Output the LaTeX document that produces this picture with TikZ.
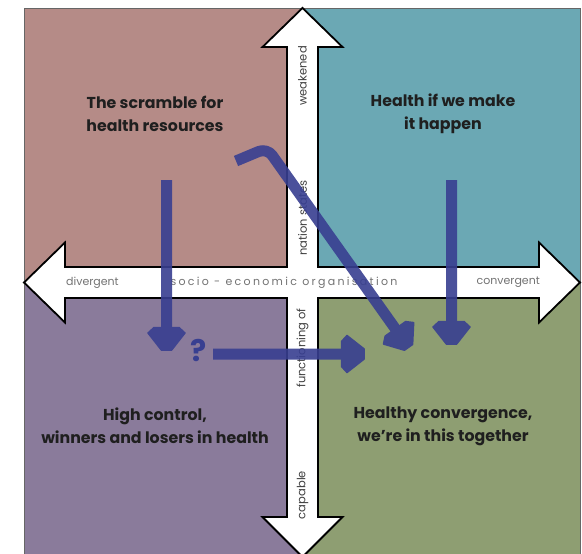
\documentclass[tikz,border=0pt]{standalone}
\usepackage{fontspec}
\setmainfont{Poppins}
\usetikzlibrary{arrows.meta}
\definecolor{qpink}{RGB}{181,139,135}
\definecolor{qteal}{RGB}{107,168,180}
\definecolor{qpurple}{RGB}{138,123,155}
\definecolor{qgreen}{RGB}{142,158,114}
\definecolor{flowblue}{RGB}{56,63,145}
\pgfdeclarearrow{
  name = Chev,
  setup code = {
    \pgfarrowssettipend{0pt}
    \pgfarrowssetlineend{-15pt}
    \pgfarrowssetbackend{-24pt}
  },
  drawing code = {
    \pgfsetlinewidth{1.5pt}
    \pgfsetroundjoin
    \pgfpathmoveto{\pgfpoint{-0.8pt}{5pt}}
    \pgfpathlineto{\pgfpoint{-18pt}{18.5pt}}
    \pgfpathlineto{\pgfpoint{-23.5pt}{12.5pt}}
    \pgfpathlineto{\pgfpoint{-23.5pt}{-12.5pt}}
    \pgfpathlineto{\pgfpoint{-18pt}{-18.5pt}}
    \pgfpathlineto{\pgfpoint{-0.8pt}{-5pt}}
    \pgfpathclose
    \pgfusepathqfillstroke
  },
}
\begin{document}
\begin{tikzpicture}[x=1pt,y=-1pt,
  title/.style={font=\bfseries\fontsize{15.8}{23}\selectfont, align=center, text=black!88, inner sep=0},
  axislabel/.style={font=\fontsize{11}{13}\selectfont, text=black!55, inner sep=0},
  vlabel/.style={font=\fontsize{11.5}{13}\selectfont, text=black!75, inner sep=0, rotate=90},
  flow/.style={draw=flowblue, line width=11pt, line join=round, -Chev},
  quad/.style={draw=black!70, line width=0.8pt}
]
\useasboundingbox (0,0) rectangle (582,554);
% quadrants
\fill[qpink]   (24,8) rectangle (302.5,282.5);
\fill[qteal]   (302.5,8) rectangle (580,282.5);
\fill[qpurple] (24,282.5) rectangle (302.5,556);
\fill[qgreen]  (302.5,282.5) rectangle (580,556);
\draw[black!60, line width=0.8pt] (24,556) -- (24,8) -- (580,8) -- (580,556);
% four-way white arrow
\draw[fill=white, draw=black, line width=1.8pt, line join=miter]
  (302.5,8) -- (342.5,47) -- (318,47) -- (318,267) -- (539,267) -- (539,242.5)
  -- (580,282.5) -- (539,322.5) -- (539,298) -- (318,298) -- (318,517)
  -- (342.5,517) -- (302.5,557) -- (262.5,517) -- (287,517) -- (287,298)
  -- (65,298) -- (65,322.5) -- (24,282.5) -- (65,242.5) -- (65,267)
  -- (287,267) -- (287,47) -- (262.5,47) -- cycle;
% axis labels
\node[axislabel, anchor=west] (div) at (66,282.5) {divergent};
\node[axislabel, anchor=east] (conv) at (540,282.5) {convergent};
\node[axislabel] (soc) at (284,282.5) {\addfontfeatures{LetterSpace=21}socio - economic organisation};
\node[vlabel] (weak) at (302.5,76) {weakened};
\node[vlabel] (nat) at (302.5,218) {nation states};
\node[vlabel] (func) at (302.5,348) {functioning of};
\node[vlabel] (cap) at (302.5,495) {capable};
% quadrant titles
\node[title] (tl) at (155,114) {The scramble for\\health resources};
\node[title] (tr) at (443,114) {Health if we make\\it happen};
\node[title] (bl) at (155,426) {High control,\\winners and losers in health};
\node[title] (br) at (443,426) {Healthy convergence,\\we’re in this together};
% flow arrows
\coordinate (a1s) at (166.5,180);
\coordinate (a1e) at (166.5,351);
\coordinate (a2s) at (213,354);
\coordinate (a2e) at (365,354);
\coordinate (a3s) at (236,161);
\coordinate (a3c) at (267,148);
\coordinate (a3e) at (409,348);
\coordinate (a4s) at (451.5,180);
\coordinate (a4e) at (451.5,345);
\node[font=\bfseries\fontsize{30}{30}\selectfont, text=flowblue, inner sep=0] (q) at (199,351) {?};
\begin{scope}[transparency group, opacity=0.9]
\draw[flow] (a1s) -- (a1e);
\end{scope}
\begin{scope}[transparency group, opacity=0.9]
\draw[flow] (a2s) -- (a2e);
\end{scope}
\begin{scope}[transparency group, opacity=0.9]
\draw[flow, rounded corners=9pt] (a3s) -- (a3c) -- (a3e);
\end{scope}
\begin{scope}[transparency group, opacity=0.9]
\draw[flow] (a4s) -- (a4e);
\end{scope}
\end{tikzpicture}
\end{document}
